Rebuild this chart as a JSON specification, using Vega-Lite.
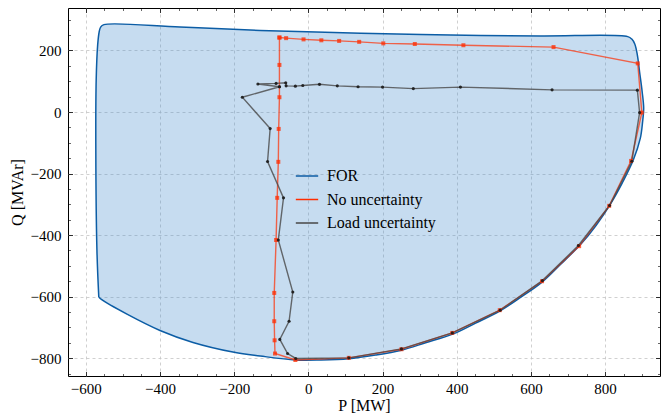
{
  "$schema": "https://vega.github.io/schema/vega-lite/v6.json",
  "width": 592,
  "height": 368,
  "autosize": "none",
  "padding": {"left": 68, "top": 8, "right": 4, "bottom": 44},
  "config": {
    "view": {"stroke": "#000000", "strokeWidth": 1},
    "font": "Liberation Serif",
    "axis": {
      "labelFont": "Liberation Serif",
      "titleFont": "Liberation Serif",
      "labelColor": "#000000",
      "titleColor": "#000000",
      "titleFontWeight": "normal",
      "tickColor": "#000000",
      "domain": false,
      "labelFlush": false,
      "labelOverlap": false
    },
    "legend": {
      "labelFont": "Liberation Serif",
      "labelColor": "#000000"
    }
  },
  "datasets": {
    "for": [
      {"series": "FOR", "i": 1, "P": -565, "Q": -601},
      {"series": "FOR", "i": 2, "P": -570, "Q": -449},
      {"series": "FOR", "i": 3, "P": -573, "Q": -124},
      {"series": "FOR", "i": 4, "P": -572, "Q": 104},
      {"series": "FOR", "i": 5, "P": -568, "Q": 218},
      {"series": "FOR", "i": 6, "P": -564, "Q": 260},
      {"series": "FOR", "i": 7, "P": -560, "Q": 276},
      {"series": "FOR", "i": 8, "P": -551, "Q": 284},
      {"series": "FOR", "i": 9, "P": -346, "Q": 276},
      {"series": "FOR", "i": 10, "P": -130, "Q": 265},
      {"series": "FOR", "i": 11, "P": 141, "Q": 256},
      {"series": "FOR", "i": 12, "P": 384, "Q": 250},
      {"series": "FOR", "i": 13, "P": 627, "Q": 247},
      {"series": "FOR", "i": 14, "P": 861, "Q": 245},
      {"series": "FOR", "i": 15, "P": 872, "Q": 237},
      {"series": "FOR", "i": 16, "P": 880, "Q": 221},
      {"series": "FOR", "i": 17, "P": 887, "Q": 185},
      {"series": "FOR", "i": 18, "P": 893, "Q": 130},
      {"series": "FOR", "i": 19, "P": 900, "Q": 65},
      {"series": "FOR", "i": 20, "P": 904, "Q": 13},
      {"series": "FOR", "i": 21, "P": 901, "Q": -33},
      {"series": "FOR", "i": 22, "P": 895, "Q": -85},
      {"series": "FOR", "i": 23, "P": 876, "Q": -156},
      {"series": "FOR", "i": 24, "P": 846, "Q": -231},
      {"series": "FOR", "i": 25, "P": 816, "Q": -296},
      {"series": "FOR", "i": 26, "P": 776, "Q": -368},
      {"series": "FOR", "i": 27, "P": 735, "Q": -429},
      {"series": "FOR", "i": 28, "P": 681, "Q": -494},
      {"series": "FOR", "i": 29, "P": 630, "Q": -553},
      {"series": "FOR", "i": 30, "P": 573, "Q": -602},
      {"series": "FOR", "i": 31, "P": 516, "Q": -647},
      {"series": "FOR", "i": 32, "P": 451, "Q": -686},
      {"series": "FOR", "i": 33, "P": 389, "Q": -722},
      {"series": "FOR", "i": 34, "P": 316, "Q": -750},
      {"series": "FOR", "i": 35, "P": 251, "Q": -774},
      {"series": "FOR", "i": 36, "P": 181, "Q": -790},
      {"series": "FOR", "i": 37, "P": 108, "Q": -802},
      {"series": "FOR", "i": 38, "P": 32, "Q": -806},
      {"series": "FOR", "i": 39, "P": -35, "Q": -806},
      {"series": "FOR", "i": 40, "P": -130, "Q": -793},
      {"series": "FOR", "i": 41, "P": -200, "Q": -781},
      {"series": "FOR", "i": 42, "P": -311, "Q": -749},
      {"series": "FOR", "i": 43, "P": -400, "Q": -710},
      {"series": "FOR", "i": 44, "P": -489, "Q": -657},
      {"series": "FOR", "i": 45, "P": -557, "Q": -610},
      {"series": "FOR", "i": 46, "P": -565, "Q": -601}
    ],
    "red": [
      {"series": "No uncertainty", "i": 1, "P": -78, "Q": 242},
      {"series": "No uncertainty", "i": 2, "P": -78, "Q": 153},
      {"series": "No uncertainty", "i": 3, "P": -78, "Q": 48},
      {"series": "No uncertainty", "i": 4, "P": -80, "Q": -55},
      {"series": "No uncertainty", "i": 5, "P": -81, "Q": -162},
      {"series": "No uncertainty", "i": 6, "P": -84, "Q": -279},
      {"series": "No uncertainty", "i": 7, "P": -87, "Q": -416},
      {"series": "No uncertainty", "i": 8, "P": -92, "Q": -588},
      {"series": "No uncertainty", "i": 9, "P": -92, "Q": -680},
      {"series": "No uncertainty", "i": 10, "P": -91, "Q": -742},
      {"series": "No uncertainty", "i": 11, "P": -90, "Q": -785},
      {"series": "No uncertainty", "i": 12, "P": -35, "Q": -806},
      {"series": "No uncertainty", "i": 13, "P": 109, "Q": -799},
      {"series": "No uncertainty", "i": 14, "P": 251, "Q": -771},
      {"series": "No uncertainty", "i": 15, "P": 388, "Q": -718},
      {"series": "No uncertainty", "i": 16, "P": 516, "Q": -644},
      {"series": "No uncertainty", "i": 17, "P": 630, "Q": -550},
      {"series": "No uncertainty", "i": 18, "P": 730, "Q": -436},
      {"series": "No uncertainty", "i": 19, "P": 811, "Q": -305},
      {"series": "No uncertainty", "i": 20, "P": 870, "Q": -159},
      {"series": "No uncertainty", "i": 21, "P": 899, "Q": -2},
      {"series": "No uncertainty", "i": 22, "P": 888, "Q": 158},
      {"series": "No uncertainty", "i": 23, "P": 661, "Q": 211},
      {"series": "No uncertainty", "i": 24, "P": 418, "Q": 217},
      {"series": "No uncertainty", "i": 25, "P": 287, "Q": 221},
      {"series": "No uncertainty", "i": 26, "P": 202, "Q": 223},
      {"series": "No uncertainty", "i": 27, "P": 137, "Q": 228},
      {"series": "No uncertainty", "i": 28, "P": 83, "Q": 231},
      {"series": "No uncertainty", "i": 29, "P": 35, "Q": 233},
      {"series": "No uncertainty", "i": 30, "P": -13, "Q": 236},
      {"series": "No uncertainty", "i": 31, "P": -60, "Q": 240},
      {"series": "No uncertainty", "i": 32, "P": -78, "Q": 242}
    ],
    "gray": [
      {"series": "Load uncertainty", "i": 1, "P": -78, "Q": 82},
      {"series": "Load uncertainty", "i": 2, "P": -178, "Q": 48},
      {"series": "Load uncertainty", "i": 3, "P": -103, "Q": -54},
      {"series": "Load uncertainty", "i": 4, "P": -110, "Q": -161},
      {"series": "Load uncertainty", "i": 5, "P": -67, "Q": -279},
      {"series": "Load uncertainty", "i": 6, "P": -81, "Q": -416},
      {"series": "Load uncertainty", "i": 7, "P": -42, "Q": -585},
      {"series": "Load uncertainty", "i": 8, "P": -52, "Q": -680},
      {"series": "Load uncertainty", "i": 9, "P": -77, "Q": -739},
      {"series": "Load uncertainty", "i": 10, "P": -56, "Q": -785},
      {"series": "Load uncertainty", "i": 11, "P": -34, "Q": -801},
      {"series": "Load uncertainty", "i": 12, "P": 109, "Q": -799},
      {"series": "Load uncertainty", "i": 13, "P": 251, "Q": -770},
      {"series": "Load uncertainty", "i": 14, "P": 388, "Q": -718},
      {"series": "Load uncertainty", "i": 15, "P": 517, "Q": -644},
      {"series": "Load uncertainty", "i": 16, "P": 631, "Q": -548},
      {"series": "Load uncertainty", "i": 17, "P": 728, "Q": -434},
      {"series": "Load uncertainty", "i": 18, "P": 812, "Q": -304},
      {"series": "Load uncertainty", "i": 19, "P": 872, "Q": -160},
      {"series": "Load uncertainty", "i": 20, "P": 893, "Q": -2},
      {"series": "Load uncertainty", "i": 21, "P": 887, "Q": 71},
      {"series": "Load uncertainty", "i": 22, "P": 657, "Q": 72},
      {"series": "Load uncertainty", "i": 23, "P": 410, "Q": 81},
      {"series": "Load uncertainty", "i": 24, "P": 283, "Q": 76},
      {"series": "Load uncertainty", "i": 25, "P": 200, "Q": 81},
      {"series": "Load uncertainty", "i": 26, "P": 134, "Q": 82},
      {"series": "Load uncertainty", "i": 27, "P": 78, "Q": 85},
      {"series": "Load uncertainty", "i": 28, "P": 30, "Q": 90},
      {"series": "Load uncertainty", "i": 29, "P": -15, "Q": 86},
      {"series": "Load uncertainty", "i": 30, "P": -35, "Q": 84},
      {"series": "Load uncertainty", "i": 31, "P": -60, "Q": 85},
      {"series": "Load uncertainty", "i": 32, "P": -61, "Q": 95},
      {"series": "Load uncertainty", "i": 33, "P": -87, "Q": 93},
      {"series": "Load uncertainty", "i": 34, "P": -136, "Q": 91},
      {"series": "Load uncertainty", "i": 35, "P": -78, "Q": 82}
    ]
  },
  "layer": [
    {
      "data": {"name": "for"},
      "mark": {"type": "line", "fill": "#418acd", "fillOpacity": 0.3, "strokeWidth": 1.5, "strokeJoin": "round", "interpolate": "catmull-rom"},
      "encoding": {
        "x": {"field": "P", "type": "quantitative", "scale": {"domain": [-648, 948], "nice": false, "zero": false},
          "axis": {"orient": "bottom", "title": "P [MW]", "values": [-600, -400, -200, 0, 200, 400, 600, 800], "grid": true, "gridDash": [3, 3], "gridColor": "#c4c4c4", "gridWidth": 0.8, "ticks": false, "labelFontSize": 15, "labelPadding": 5, "titleFontSize": 16, "titlePadding": 1}},
        "y": {"field": "Q", "type": "quantitative", "scale": {"domain": [-858, 338], "nice": false, "zero": false},
          "axis": {"orient": "left", "title": "Q [MVAr]", "values": [-800, -600, -400, -200, 0, 200], "grid": true, "gridDash": [3, 3], "gridColor": "#c4c4c4", "gridWidth": 0.8, "ticks": false, "labelFontSize": 15, "labelPadding": 7, "titleFontSize": 16, "titlePadding": 5}},
        "order": {"field": "i", "type": "quantitative"},
        "color": {"field": "series", "type": "nominal",
          "scale": {"domain": ["FOR", "No uncertainty", "Load uncertainty"], "range": ["#0C5DA5", "#FF2C00", "#474747"]},
          "legend": {"title": null, "orient": "none", "legendX": 227, "legendY": 156, "symbolType": "stroke", "symbolSize": 500, "symbolStrokeWidth": 1.5, "labelFontSize": 16, "labelOffset": 8, "rowPadding": 3.5, "padding": 0}}
      }
    },
    {
      "data": {"name": "red"},
      "mark": {"type": "line", "strokeWidth": 1.4, "opacity": 0.7},
      "encoding": {
        "x": {"field": "P", "type": "quantitative", "scale": {"domain": [-648, 948], "nice": false, "zero": false},
          "axis": {"orient": "bottom", "title": null, "values": [-600, -400, -200, 0, 200, 400, 600, 800], "grid": false, "labels": false, "ticks": true, "tickSize": -4.5, "tickWidth": 0.8, "zindex": 1}},
        "y": {"field": "Q", "type": "quantitative", "scale": {"domain": [-858, 338], "nice": false, "zero": false},
          "axis": {"orient": "left", "title": null, "values": [-800, -600, -400, -200, 0, 200], "grid": false, "labels": false, "ticks": true, "tickSize": -4.5, "tickWidth": 0.8, "zindex": 1}},
        "order": {"field": "i", "type": "quantitative"},
        "color": {"field": "series", "type": "nominal"}
      }
    },
    {
      "data": {"name": "gray"},
      "mark": {"type": "line", "strokeWidth": 1.4, "opacity": 0.8},
      "encoding": {
        "x": {"field": "P", "type": "quantitative", "scale": {"domain": [-648, 948], "nice": false, "zero": false},
          "axis": {"orient": "top", "title": null, "values": [-600, -400, -200, 0, 200, 400, 600, 800], "grid": false, "labels": false, "ticks": true, "tickSize": -4.5, "tickWidth": 0.8, "zindex": 1}},
        "y": {"field": "Q", "type": "quantitative", "scale": {"domain": [-858, 338], "nice": false, "zero": false},
          "axis": {"orient": "right", "title": null, "values": [-800, -600, -400, -200, 0, 200], "grid": false, "labels": false, "ticks": true, "tickSize": -4.5, "tickWidth": 0.8, "zindex": 1}},
        "order": {"field": "i", "type": "quantitative"},
        "color": {"field": "series", "type": "nominal"}
      }
    },
    {
      "data": {"name": "red"},
      "mark": {"type": "square", "size": 16, "color": "#FF2C00", "opacity": 0.75},
      "encoding": {
        "x": {"field": "P", "type": "quantitative", "scale": {"domain": [-648, 948], "nice": false, "zero": false},
          "axis": {"orient": "bottom", "title": null, "values": [-550, -500, -450, -350, -300, -250, -150, -100, -50, 50, 100, 150, 250, 300, 350, 450, 500, 550, 650, 700, 750, 850, 900], "grid": false, "labels": false, "ticks": true, "tickSize": -2.5, "tickWidth": 0.6, "zindex": 1}},
        "y": {"field": "Q", "type": "quantitative", "scale": {"domain": [-858, 338], "nice": false, "zero": false},
          "axis": {"orient": "left", "title": null, "values": [-850, -750, -700, -650, -550, -500, -450, -350, -300, -250, -150, -100, -50, 50, 100, 150, 250, 300], "grid": false, "labels": false, "ticks": true, "tickSize": -2.5, "tickWidth": 0.6, "zindex": 1}}
      }
    },
    {
      "data": {"name": "gray"},
      "mark": {"type": "circle", "size": 10, "color": "#1a1a1a", "opacity": 0.9},
      "encoding": {
        "x": {"field": "P", "type": "quantitative", "scale": {"domain": [-648, 948], "nice": false, "zero": false},
          "axis": {"orient": "top", "title": null, "values": [-550, -500, -450, -350, -300, -250, -150, -100, -50, 50, 100, 150, 250, 300, 350, 450, 500, 550, 650, 700, 750, 850, 900], "grid": false, "labels": false, "ticks": true, "tickSize": -2.5, "tickWidth": 0.6, "zindex": 1}},
        "y": {"field": "Q", "type": "quantitative", "scale": {"domain": [-858, 338], "nice": false, "zero": false},
          "axis": {"orient": "right", "title": null, "values": [-850, -750, -700, -650, -550, -500, -450, -350, -300, -250, -150, -100, -50, 50, 100, 150, 250, 300], "grid": false, "labels": false, "ticks": true, "tickSize": -2.5, "tickWidth": 0.6, "zindex": 1}}
      }
    }
  ],
  "resolve": {"axis": {"x": "independent", "y": "independent"}}
}
